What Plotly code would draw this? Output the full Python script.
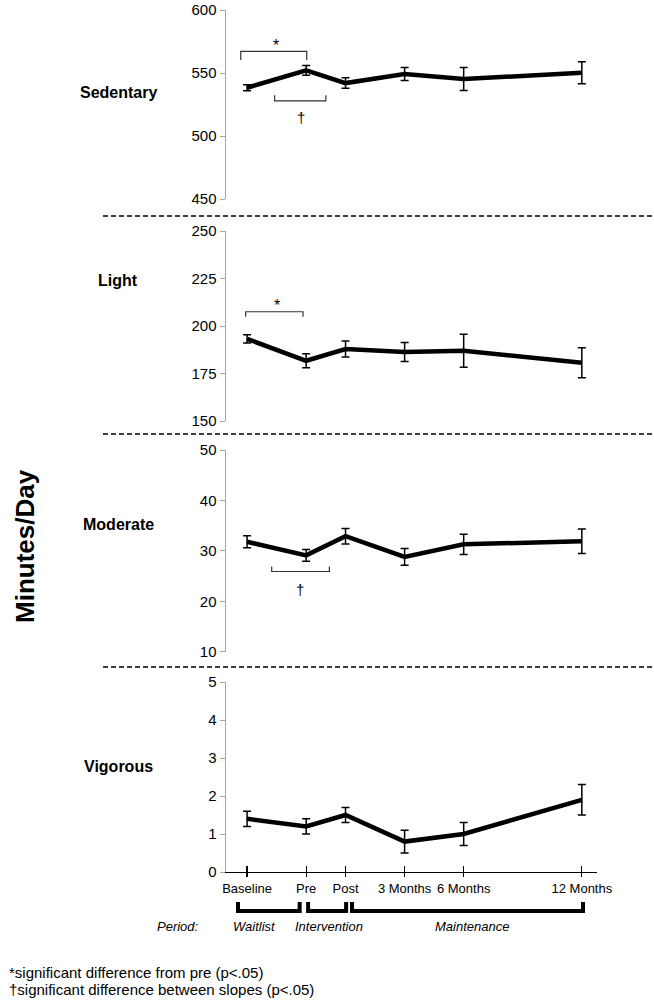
import plotly.graph_objects as go

# ---------------- data ----------------
categories = ["Baseline", "Pre", "Post", "3 Months", "6 Months", "12 Months"]
x_months = [0, 3, 5, 8, 11, 17]          # position of each time point on a month-like scale

sedentary = [538.3, 552.1, 542.0, 549.2, 545.2, 550.2]
sedentary_err = [2.4, 3.8, 4.2, 5.2, 9.1, 8.7]
light = [193.2, 181.7, 187.9, 186.3, 187.0, 180.7]
light_err = [2.2, 3.7, 4.2, 5.0, 8.7, 7.9]
moderate = [31.8, 29.1, 32.9, 28.8, 31.3, 31.9]
moderate_err = [1.2, 1.15, 1.55, 1.65, 2.0, 2.45]
vigorous = [1.4, 1.2, 1.5, 0.8, 1.0, 1.9]
vigorous_err = [0.2, 0.2, 0.2, 0.3, 0.3, 0.4]

panel_names = ["Sedentary", "Light", "Moderate", "Vigorous"]
panel_ranges = [[450, 600], [150, 250], [10, 50], [0, 5]]
panel_ticks = [[450, 500, 550, 600], [150, 175, 200, 225, 250],
               [10, 20, 30, 40, 50], [0, 1, 2, 3, 4, 5]]

periods = ["Waitlist", "Intervention", "Maintenance"]

W, H = 654, 1001
FONT = "Liberation Sans, Arial, sans-serif"


def px(xp):
    return xp / W


def py(yp):
    return 1 - yp / H


# pixel layout (window coordinates)
x_dom = [px(226), px(597)]
x_range = [-1.07, 17.77]
y_doms = [[py(199), py(10)], [py(421), py(231)], [py(651.7), py(450)], [py(872), py(682)]]
label_y = [92, 281, 524, 766]

series = [(sedentary, sedentary_err), (light, light_err),
          (moderate, moderate_err), (vigorous, vigorous_err)]

fig = go.Figure()
layout = dict(width=W, height=H, autosize=False,
              margin=dict(l=0, r=0, t=0, b=0, pad=0, autoexpand=False),
              plot_bgcolor="white", paper_bgcolor="white", showlegend=False,
              font=dict(family=FONT, color="black", size=14))


def ann(**kw):
    base = dict(showarrow=False, xanchor="center", yanchor="middle")
    base.update(kw)
    fig.add_annotation(**base)


for i, (vals, errs) in enumerate(series):
    n = i + 1
    xa = "x" if n == 1 else f"x{n}"
    ya = "y" if n == 1 else f"y{n}"
    fig.add_trace(go.Scatter(
        x=x_months, y=vals, xaxis=xa, yaxis=ya, mode="lines",
        line=dict(color="black", width=4.5),
        error_y=dict(type="data", array=errs, visible=True, color="black",
                     thickness=1.5, width=4),
        hoverinfo="skip"))
    xkey = "xaxis" if n == 1 else f"xaxis{n}"
    ykey = "yaxis" if n == 1 else f"yaxis{n}"
    layout[xkey] = dict(domain=x_dom, range=x_range, anchor=ya, showgrid=False,
                        zeroline=False, showline=False, showticklabels=False,
                        ticks="", fixedrange=True, automargin=False)
    layout[ykey] = dict(domain=y_doms[i], range=panel_ranges[i], anchor=xa,
                        tickvals=panel_ticks[i], showgrid=False, zeroline=False,
                        showline=True, linecolor="#a6a6a6", linewidth=1.5,
                        ticks="outside", ticklen=5, tickcolor="#a6a6a6",
                        tickfont=dict(size=15, color="black", family=FONT),
                        ticklabeloverflow="allow",
                        fixedrange=True, automargin=False)
    ann(x=px(118), y=py(label_y[i]), xref="paper", yref="paper",
        text=f"<b>{panel_names[i]}</b>", font=dict(size=16, family=FONT, color="black"))

# bottom x axis with category labels
layout["xaxis4"].update(showline=True, linecolor="black", linewidth=1.2,
                        showticklabels=True, tickvals=x_months, ticktext=categories,
                        ticks="outside", ticklen=4, tickcolor="black", tickwidth=1.2,
                        tickfont=dict(size=13, family=FONT, color="black"))
# overlay axis to give crossing tick marks
layout["xaxis5"] = dict(domain=x_dom, range=x_range, anchor="y4", overlaying="x4",
                        showgrid=False, zeroline=False, showline=False,
                        showticklabels=False, tickvals=x_months, ticks="inside",
                        ticklen=6, tickcolor="black", tickwidth=1.2, fixedrange=True,
                        automargin=False)
fig.add_trace(go.Scatter(x=[x_months[0]], y=[vigorous[0]], xaxis="x5", yaxis="y4",
                         mode="markers", marker=dict(opacity=0), hoverinfo="skip"))

fig.update_layout(**layout)

# ---------------- significance brackets ----------------
br = dict(color="#333333", width=1.2)
# Sedentary: * Baseline vs Pre (bracket above)
fig.add_trace(go.Scatter(x=[x_months[0] - 0.32, x_months[0] - 0.32, x_months[1] + 0.03, x_months[1] + 0.03],
                         y=[560.3, 567.2, 567.2, 560.3], xaxis="x", yaxis="y",
                         mode="lines", line=br, hoverinfo="skip"))
ann(x=(x_months[0] + x_months[1]) / 2 - 0.05, y=567.2, xref="x", yref="y",
    text="*", yshift=6, font=dict(size=16))
# Sedentary: dagger slopes (bracket below)
s0 = (x_months[0] + x_months[1]) / 2
s1 = (x_months[1] + x_months[2]) / 2
fig.add_trace(go.Scatter(x=[s0 - 0.1, s0 - 0.1, s1, s1], y=[532.3, 527.8, 527.8, 532.3],
                         xaxis="x", yaxis="y", mode="lines", line=br, hoverinfo="skip"))
ann(x=(s0 + s1) / 2, y=515, xref="x", yref="y", text="†", font=dict(size=15, color="black"))
# Light: * Baseline vs Pre
fig.add_trace(go.Scatter(x=[x_months[0] - 0.07, x_months[0] - 0.07, x_months[1] - 0.16, x_months[1] - 0.16],
                         y=[204.9, 207.5, 207.5, 204.9], xaxis="x2", yaxis="y2",
                         mode="lines", line=br, hoverinfo="skip"))
ann(x=(x_months[0] + x_months[1]) / 2, y=207.5, xref="x2", yref="y2",
    text="*", yshift=6, font=dict(size=16))
# Moderate: dagger slopes
fig.add_trace(go.Scatter(x=[s0 - 0.25, s0 - 0.25, s1 + 0.18, s1 + 0.18], y=[26.9, 25.9, 25.9, 26.9],
                         xaxis="x3", yaxis="y3", mode="lines", line=br, hoverinfo="skip"))
ann(x=(s0 + s1) / 2 - 0.05, y=22.3, xref="x3", yref="y3", text="†",
    font=dict(size=15, color="black"))

# ---------------- dashed separators ----------------
for yp in [216, 434, 667]:
    fig.add_shape(type="line", xref="paper", yref="paper", x0=px(103), x1=px(652),
                  y0=py(yp), y1=py(yp), line=dict(color="black", width=1.3, dash="5px,3px"))

# ---------------- period brackets ----------------
yt, yb = py(902), py(911)
period_spans = [(x_months[0] - 0.46, x_months[1] - 0.33),
                (x_months[1] + 0.1, x_months[2] + 0.03),
                (x_months[2] + 0.33, x_months[5] + 0.06)]
period_label_x = [254, 329, 472]
for (a, b), name, lx in zip(period_spans, periods, period_label_x):
    fig.add_shape(type="path", xref="x4", yref="paper",
                  path=f"M {a},{yt} L {a},{yb} L {b},{yb} L {b},{yt}",
                  line=dict(color="black", width=4))
    ann(x=px(lx), y=py(926), xref="paper", yref="paper",
        text=f"<i>{name}</i>", font=dict(size=13))
ann(x=px(178), y=py(926), xref="paper", yref="paper", text="<i>Period:</i>",
    font=dict(size=13))

# ---------------- y title & footnotes ----------------
ann(x=px(25), y=py(546), xref="paper", yref="paper", text="<b>Minutes/Day</b>",
    textangle=-90, font=dict(size=26))
ann(x=px(7), y=py(972), xref="paper", yref="paper", xanchor="left",
    text="*significant difference from pre (p<.05)", font=dict(size=15))
ann(x=px(7), y=py(989), xref="paper", yref="paper", xanchor="left",
    text="†significant difference between slopes (p<.05)", font=dict(size=15))

# remove the browser's default 8px body margin so the figure fills the window
fig.write_html("out.html",
               config={"displayModeBar": False, "staticPlot": True},
               post_script="document.body.style.margin='0px';document.body.style.overflow='hidden';")
